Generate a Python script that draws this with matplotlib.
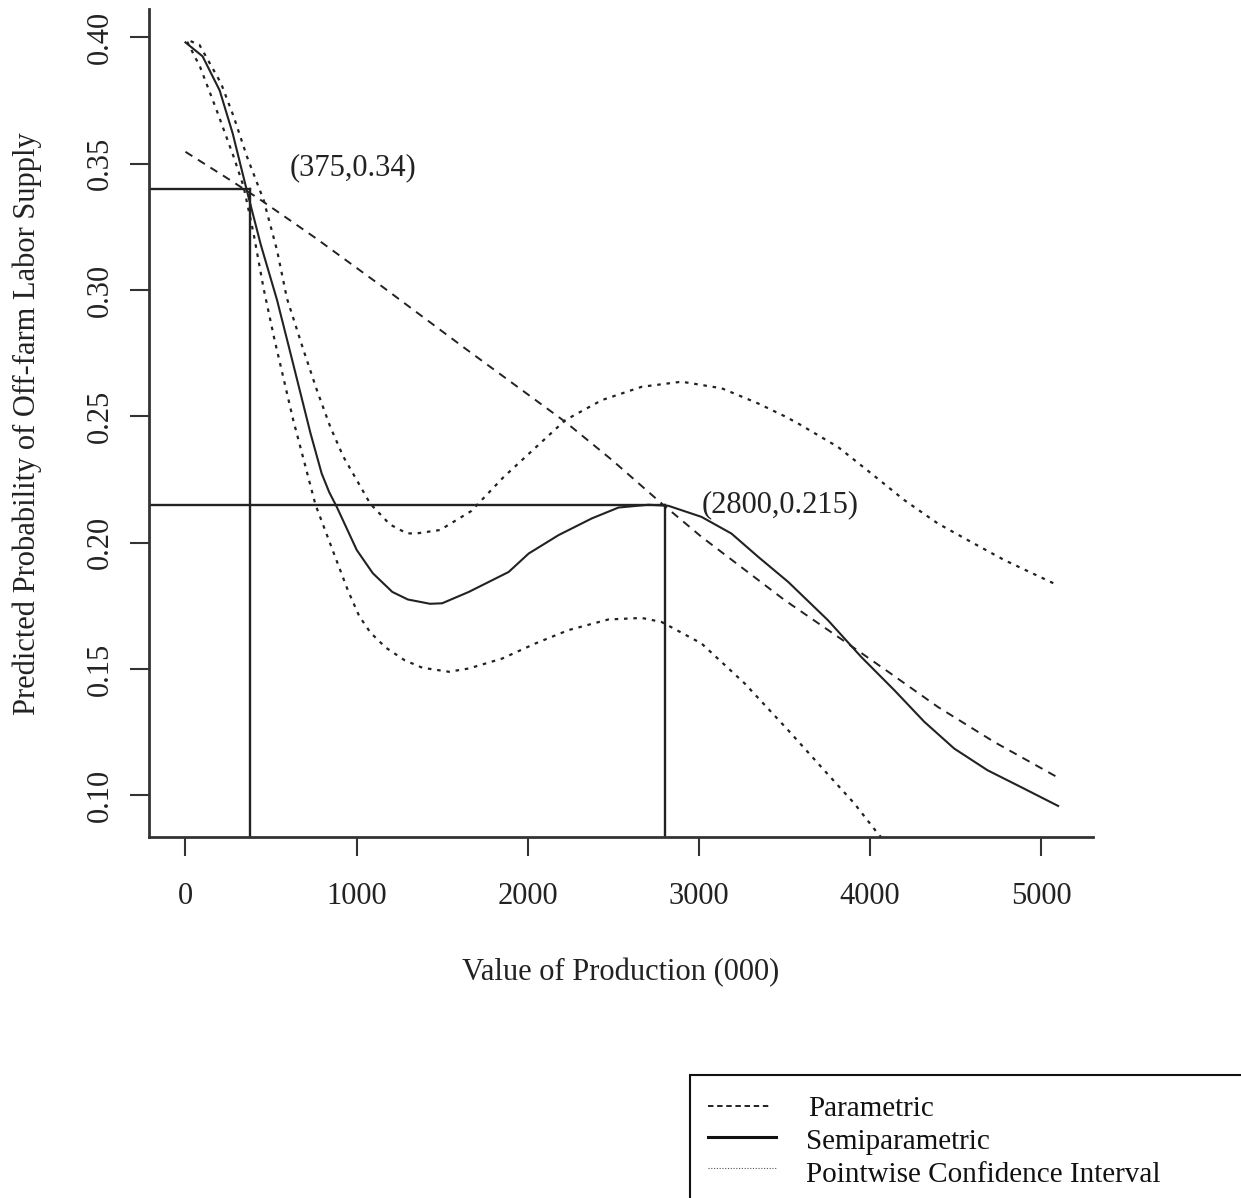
import numpy as np
import matplotlib.pyplot as plt
from matplotlib.lines import Line2D
from matplotlib.patches import Rectangle

plt.rcParams['font.family'] = ['Liberation Serif', 'DejaVu Serif']

# values
semi_x = [0, 100, 200, 276, 358, 440, 535, 610, 671, 730, 796, 840, 884, 1001, 1095,
          1209, 1300, 1430, 1500, 1656, 1889, 2006, 2181, 2375, 2531, 2706, 2822,
          3016, 3191, 3347, 3522, 3755, 3949, 4143, 4318, 4493, 4688, 4882, 5100]
semi_y = [0.398, 0.3925, 0.379, 0.362, 0.3396, 0.318, 0.2961, 0.2760, 0.2595, 0.2435,
          0.2274, 0.2200, 0.2142, 0.1971, 0.1879, 0.1805, 0.1775, 0.1758, 0.176, 0.1805,
          0.1884, 0.1957, 0.203, 0.2096, 0.2139, 0.215, 0.2146, 0.2102, 0.2036, 0.1944,
          0.1845, 0.1693, 0.1548, 0.1416, 0.1291, 0.1185, 0.1099, 0.1033, 0.0958]

par_x = [0, 257, 432, 762, 1151, 1636, 2220, 2493, 2783, 3016, 3503, 3872, 4105,
         4397, 4727, 5100]
par_y = [0.3547, 0.3437, 0.336, 0.3205, 0.3013, 0.2768, 0.2478, 0.2327, 0.2155,
         0.2023, 0.1772, 0.16, 0.149, 0.135, 0.1211, 0.107]

up_x = [30, 82, 165, 208, 282, 360, 457, 535, 593, 690, 768, 846, 923, 1001, 1079,
        1195, 1293, 1345, 1488, 1670, 1860, 2060, 2220, 2433, 2667, 2900, 3134, 3347,
        3503, 3580, 3813, 4008, 4202, 4397, 4591, 4786, 5077]
up_y = [0.3985, 0.397, 0.387, 0.3818, 0.3686, 0.3527, 0.3356, 0.3158, 0.2967, 0.2762,
        0.2604, 0.2459, 0.234, 0.2248, 0.2155, 0.2072, 0.2037, 0.2036, 0.205, 0.2125,
        0.226, 0.2385, 0.2485, 0.2564, 0.2617, 0.2637, 0.2611, 0.2551, 0.25, 0.2472,
        0.2379, 0.2274, 0.2168, 0.2076, 0.2003, 0.1931, 0.1838]

lo_x = [10, 85, 182, 282, 340, 398, 457, 520, 630, 700, 760, 880, 950, 1015, 1080,
        1170, 1280, 1384, 1540, 1656, 1850, 2045, 2239, 2472, 2667, 2783, 3016, 3268,
        3522, 3716, 3910, 4046, 4150]
lo_y = [0.3983, 0.3884, 0.3712, 0.3527, 0.3409, 0.3224, 0.3005, 0.2805, 0.2485, 0.2305,
        0.215, 0.1935, 0.181, 0.171, 0.1645, 0.1585, 0.1535, 0.1505, 0.1489, 0.1502,
        0.1541, 0.1601, 0.1654, 0.1696, 0.1702, 0.1686, 0.1601, 0.1443, 0.1258, 0.1112,
        0.0967, 0.0849, 0.077]

marks = [(375, 0.34), (2800, 0.215)]
mark_labels = ['(375,0.34)', '(2800,0.215)']
label_pos = [(606, 0.3483), (3016, 0.215)]

xticks = [0, 1000, 2000, 3000, 4000, 5000]
yticks = [0.10, 0.15, 0.20, 0.25, 0.30, 0.35, 0.40]

ink = '#222222'
fig = plt.figure(figsize=(12.41, 11.98), dpi=100)
ax = fig.add_axes([149/1241, 1 - 837/1198, 944/1241, 827.7/1198])
ax.set_xlim(-213, 5304)
ax.set_ylim(0.0835, 0.4111)

dot = (0, (1.6, 2.6))
dash = (0, (4.2, 3.4))
ax.plot(par_x, par_y, color=ink, lw=1.4, linestyle=dash)
ax.plot(semi_x, semi_y, color=ink, lw=1.5)
ax.plot(up_x, up_y, color=ink, lw=1.6, linestyle=dot)
ax.plot(lo_x, lo_y, color=ink, lw=1.6, linestyle=dot)

x0, y0 = ax.get_xlim()[0], ax.get_ylim()[0]
for (mx, my), lab, (tx, ty) in zip(marks, mark_labels, label_pos):
    ax.plot([x0, mx], [my, my], color=ink, lw=1.7)
    ax.plot([mx, mx], [y0, my], color=ink, lw=1.7)
    ax.text(tx, ty, lab, fontsize=22, ha='left', va='center', color=ink)

for s in ['top', 'right']:
    ax.spines[s].set_visible(False)
for s in ['left', 'bottom']:
    ax.spines[s].set_linewidth(2)
    ax.spines[s].set_color('#333333')

ax.set_xticks(xticks)
ax.set_xticklabels([str(v) for v in xticks])
ax.set_yticks(yticks)
ax.set_yticklabels(['%.2f' % v for v in yticks])
ax.tick_params(axis='both', length=13.7, width=1.5, color='#333333', labelsize=22,
               labelcolor=ink)
ax.tick_params(axis='x', pad=19)
ax.tick_params(axis='y', pad=11)
for lab in ax.get_yticklabels():
    lab.set_rotation(90)
    lab.set_va('center')

ax.set_xlabel('Value of Production (000)', fontsize=22, color=ink)
ax.xaxis.set_label_coords(0.5, (837 - 958) / 827.7)
ax.set_ylabel('Predicted Probability of Off-farm Labor Supply', fontsize=22, color=ink)
ax.yaxis.set_label_coords((42 - 149) / 944, 0.5)

# legend box drawn below the plot, running off the right/bottom edge
W, H = 1241, 1198
fig.patches.append(Rectangle((690/W, -0.1), 0.6, 0.1 + 1 - 1075/H, transform=fig.transFigure,
                             fill=False, edgecolor='#111111', lw=1.5))
fig.lines.append(Line2D([708/W, 770/W], [1 - 1106/H] * 2, transform=fig.transFigure,
                        color=ink, lw=1.4, linestyle=(0, (2.8, 1.9))))
fig.lines.append(Line2D([708/W, 776/W], [1 - 1137/H] * 2, transform=fig.transFigure,
                        color='#111111', lw=2.2))
fig.lines.append(Line2D([708/W, 776/W], [1 - 1168/H] * 2, transform=fig.transFigure,
                        color='#555555', lw=0.8, linestyle=(0, (1, 1.5))))
fig.text(808/W, 1 - 1116/H, 'Parametric', fontsize=21, va='baseline', color='#111111')
fig.text(806/W, 1 - 1149/H, 'Semiparametric', fontsize=21, va='baseline', color='#111111')
fig.text(806/W, 1 - 1182/H, 'Pointwise Confidence Interval', fontsize=21, va='baseline',
         color='#111111')

fig.savefig('out.png', dpi=100)
